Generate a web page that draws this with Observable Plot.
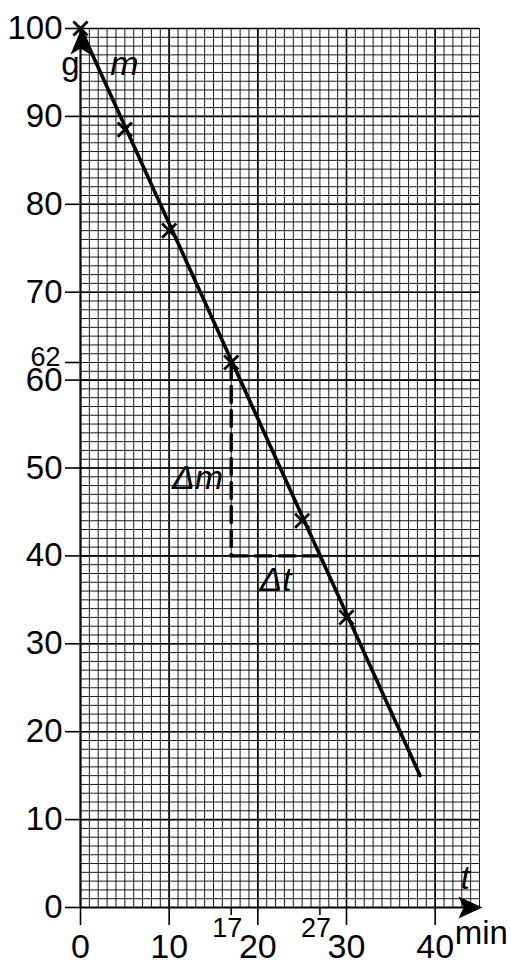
<!DOCTYPE html>
<html><head><meta charset="utf-8">
<script src="https://cdn.jsdelivr.net/npm/d3@7"></script>
<script src="https://cdn.jsdelivr.net/npm/@observablehq/plot@0.6"></script>
<style>html,body{margin:0;padding:0;background:#fff} svg{display:block}</style>
</head><body><div id="chart"></div>
<script>
// measured points (t in min, m in g)
const times = [0, 5, 10, 17, 25, 30];
const masses = [100, 88.5, 77, 62, 44, 33];
// fitted straight line
const fitTimes = [0, 38.3];
const fitMasses = [100, 15];
// slope triangle
const triTimes = [17, 17, 27];
const triMasses = [62, 40, 40];
// ticks
const xTicks = [0, 10, 20, 30, 40];
const yTicks = [0, 10, 20, 30, 40, 50, 60, 70, 80, 90, 100];
const xMarkTicks = [17, 27];
const yMarkTicks = [62];
// boxed annotations
const boxLabels = ["m", "t", "Δm", "Δt"];
const boxT = [4.96, 43.4, 13.2, 22.0];
const boxM = [95.9, 3.4, 48.9, 37.2];
// unit labels
const unitLabels = ["g", "min"];
const unitT = [-1.15, 45.2];
const unitM = [95.9, -3.0];

const T_MAX = 45, M_MAX = 100;
const minorT = d3.range(0, T_MAX + 1);
const minorM = d3.range(0, M_MAX + 1);
const majorT = minorT.filter(d => d % 10 === 0 && d > 0);
const majorM = minorM.filter(d => d % 10 === 0 && d > 0);

const pts = times.map((t, i) => ({t, m: masses[i]}));
const fit = fitTimes.map((t, i) => ({t, m: fitMasses[i]}));
const vert = [{t: triTimes[0], m: triMasses[0]}, {t: triTimes[1], m: triMasses[1]}];
const horiz = [{t: triTimes[1], m: triMasses[1]}, {t: triTimes[2], m: triMasses[2]}];
const boxes = boxLabels.map((s, i) => ({s, t: boxT[i], m: boxM[i]}));
const units = unitLabels.map((s, i) => ({s, t: unitT[i], m: unitM[i]}));
const xMarks = xMarkTicks.map(t => ({t, m: 0, s: String(t)}));
const yMarks = yMarkTicks.map(m => ({t: 0, m, s: String(m)}));

const upArrow = {draw(ctx) { ctx.moveTo(0, 2); ctx.lineTo(10, 26); ctx.lineTo(0, 20); ctx.lineTo(-10, 26); ctx.closePath(); }};
const rightArrow = {draw(ctx) { ctx.moveTo(3, 0); ctx.lineTo(-21, 11); ctx.lineTo(-16, 0); ctx.lineTo(-21, -11); ctx.closePath(); }};

const FONT = "'Liberation Sans', Arial, sans-serif";

const plot = Plot.plot({
  width: 510, height: 965,
  marginLeft: 80, marginRight: 31, marginTop: 28, marginBottom: 58,
  x: {type: "linear", domain: [0, T_MAX]},
  y: {type: "linear", domain: [0, M_MAX]},
  style: {fontFamily: FONT, background: "#fff", color: "#000"},
  marks: [
    Plot.ruleX(minorT, {y1: 0, y2: M_MAX, stroke: "#000", strokeOpacity: 0.9, strokeWidth: 1}),
    Plot.ruleY(minorM, {x1: 0, x2: T_MAX, stroke: "#000", strokeOpacity: 0.9, strokeWidth: 1}),
    Plot.ruleX(majorT, {y1: 0, y2: M_MAX, stroke: "#000", strokeWidth: 1.6}),
    Plot.ruleY(majorM, {x1: 0, x2: T_MAX, stroke: "#000", strokeWidth: 1.6}),
    Plot.axisX({ticks: xTicks, tickSize: 18, tickPadding: 8, fontSize: 34, strokeWidth: 1.6, label: null}),
    Plot.axisX({ticks: xMarkTicks, tickSize: 8, tickFormat: () => "", strokeWidth: 1.6, label: null}),
    Plot.text(xMarks, {x: "t", y: "m", text: "s", fontSize: 27, dx: -4, dy: 10, lineAnchor: "top"}),
    Plot.axisY({ticks: yTicks, tickSize: 15, tickPadding: 3, fontSize: 33, strokeWidth: 1.6, label: null}),
    Plot.axisY({ticks: yMarkTicks, tickSize: 15, tickFormat: () => "", strokeWidth: 1.6, label: null}),
    Plot.text(yMarks, {x: "t", y: "m", text: "s", fontSize: 27, dx: -20, dy: -5, textAnchor: "end", lineAnchor: "middle"}),
    Plot.ruleX([0], {y1: 0, y2: M_MAX, strokeWidth: 2.2}),
    Plot.ruleY([0], {x1: 0, x2: T_MAX, strokeWidth: 2.2}),
    Plot.line(vert, {x: "t", y: "m", strokeWidth: 3.4, strokeDasharray: "16,8"}),
    Plot.line(horiz, {x: "t", y: "m", strokeWidth: 3.4, strokeDasharray: "16,8"}),
    Plot.line(fit, {x: "t", y: "m", strokeWidth: 3.6, strokeLinecap: "round"}),
    Plot.dot(pts, {x: "t", y: "m", symbol: "times", r: 6.5, strokeWidth: 2.8, stroke: "#000"}),
    Plot.dot([{t: 0, m: M_MAX}], {x: "t", y: "m", symbol: upArrow, fill: "#000", stroke: "none"}),
    Plot.dot([{t: T_MAX, m: 0}], {x: "t", y: "m", symbol: rightArrow, fill: "#000", stroke: "none"}),
    Plot.text(boxes, {x: "t", y: "m", text: "s", fontSize: 34, fontStyle: "italic", ariaLabel: "boxed", textAnchor: "middle", lineAnchor: "middle"}),
    Plot.text(units, {x: "t", y: "m", text: "s", fontSize: 33, textAnchor: "middle", lineAnchor: "middle"})
  ]
});
document.getElementById("chart").appendChild(plot);

// white boxes behind annotations, upright Δ
d3.select(plot).selectAll('g[aria-label="boxed"] text').each(function() {
  const el = d3.select(this);
  const s = el.text();
  if (s.startsWith("Δ")) {
    el.text(null);
    el.append("tspan").attr("font-style", "normal").style("font-style", "normal").text("Δ");
    el.append("tspan").style("font-style", "italic").text(s.slice(1));
  }
  const b = this.getBBox();
  const tr = this.getAttribute("transform");
  d3.select(this.parentNode).insert("rect", () => this)
    .attr("x", b.x - 2).attr("y", b.y + 5).attr("width", b.width + 4).attr("height", b.height - 9)
    .attr("transform", tr).attr("fill", "#fff");
});
</script>
</body></html>
